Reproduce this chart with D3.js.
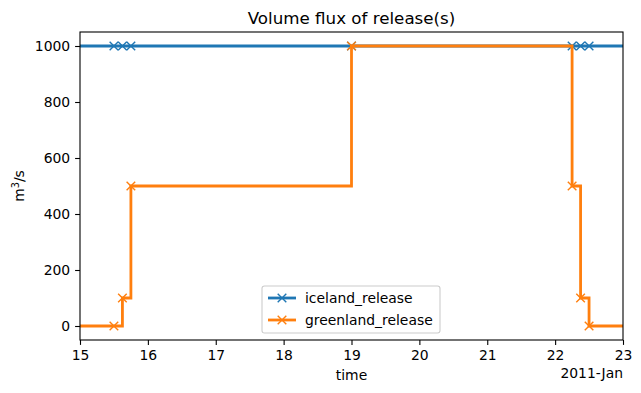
<!DOCTYPE html>
<html>
<head>
<meta charset="utf-8">
<script src="https://cdn.jsdelivr.net/npm/d3@7"></script>
<style>
body { margin: 0; background: #fff; }
text { font-family: "DejaVu Sans", sans-serif; fill: #000; }
</style>
</head>
<body>
<div id="chart"></div>
<script>
// 数据：时间以 2011 年 1 月的日为单位
var seriesNames = ["iceland_release", "greenland_release"];
var seriesColors = ["#1f77b4", "#ff7f0e"];
var icelandTime = [14.5, 15.5, 15.625, 15.75, 19, 22.25, 22.375, 22.5, 23.5];
var icelandValue = [1000, 1000, 1000, 1000, 1000, 1000, 1000, 1000, 1000];
var greenlandTime = [14.5, 15.5, 15.625, 15.75, 19, 22.25, 22.375, 22.5, 23.5];
var greenlandValue = [0, 0, 100, 500, 1000, 500, 100, 0, 0];
var xTicks = [15, 16, 17, 18, 19, 20, 21, 22, 23];
var yTicks = [0, 200, 400, 600, 800, 1000];

var W = 641, H = 393;
var margin = { left: 80, right: 18, top: 32, bottom: 53 };
var FS = 13.9;

var svg = d3.select("#chart").append("svg")
	.attr("width", W).attr("height", H);

var x = d3.scaleLinear().domain([15, 23]).range([margin.left, W - margin.right]);
var y = d3.scaleLinear().domain([-50, 1050]).range([H - margin.bottom, margin.top]);

svg.append("clipPath").attr("id", "clip")
	.append("rect")
	.attr("x", margin.left).attr("y", margin.top)
	.attr("width", W - margin.left - margin.right)
	.attr("height", H - margin.top - margin.bottom);

function makeData(t, v) {
	var arr = [];
	for (var i = 0; i < t.length; i++) arr.push({ t: t[i], v: v[i] });
	return arr;
}
var allSeries = [makeData(icelandTime, icelandValue), makeData(greenlandTime, greenlandValue)];

var line = d3.line()
	.x(function (d) { return x(d.t); })
	.y(function (d) { return y(d.v); })
	.curve(d3.curveStepAfter);

var plot = svg.append("g").attr("clip-path", "url(#clip)");

function xMarker(g, cx, cy, color) {
	var s = 4.3;
	g.append("path")
		.attr("d", "M" + (cx - s) + "," + (cy - s) + "L" + (cx + s) + "," + (cy + s) +
			"M" + (cx - s) + "," + (cy + s) + "L" + (cx + s) + "," + (cy - s))
		.attr("stroke", color)
		.attr("stroke-width", 1.4)
		.attr("fill", "none");
}

allSeries.forEach(function (data, k) {
	var g = plot.append("g");
	g.append("path")
		.datum(data)
		.attr("d", line)
		.attr("fill", "none")
		.attr("stroke", seriesColors[k])
		.attr("stroke-width", 2.8);
	data.forEach(function (d) {
		xMarker(g, x(d.t), y(d.v), seriesColors[k]);
	});
});

// 坐标轴
var xAxis = svg.append("g")
	.attr("transform", "translate(0," + (H - margin.bottom) + ")")
	.call(d3.axisBottom(x).tickValues(xTicks).tickFormat(d3.format("d")).tickSizeOuter(0).tickSize(4.9).tickPadding(4.9));
var yAxis = svg.append("g")
	.attr("transform", "translate(" + margin.left + ",0)")
	.call(d3.axisLeft(y).tickValues(yTicks).tickFormat(d3.format("d")).tickSizeOuter(0).tickSize(4.9).tickPadding(4.9));
[xAxis, yAxis].forEach(function (a) {
	a.selectAll("text").style("font-size", FS + "px").style("font-family", "DejaVu Sans");
	a.selectAll("line").attr("stroke", "#000").attr("stroke-width", 1.1);
	a.select(".domain").remove();
});

// 边框
svg.append("rect")
	.attr("x", margin.left).attr("y", margin.top)
	.attr("width", W - margin.left - margin.right)
	.attr("height", H - margin.top - margin.bottom)
	.attr("fill", "none").attr("stroke", "#000").attr("stroke-width", 1.1);

// 标题与标签
svg.append("text")
	.attr("x", (margin.left + W - margin.right) / 2).attr("y", 24)
	.attr("text-anchor", "middle").style("font-size", "16.7px")
	.text("Volume flux of release(s)");

svg.append("text")
	.attr("x", (margin.left + W - margin.right) / 2).attr("y", 380)
	.attr("text-anchor", "middle").style("font-size", FS + "px")
	.text("time");

svg.append("text")
	.attr("x", W - margin.right).attr("y", 378)
	.attr("text-anchor", "end").style("font-size", FS + "px")
	.text("2011-Jan");

var yl = svg.append("text")
	.attr("transform", "translate(24," + ((margin.top + H - margin.bottom) / 2) + ") rotate(-90)")
	.attr("text-anchor", "middle").style("font-size", FS + "px");
yl.append("tspan").text("m");
yl.append("tspan").attr("dy", -5).style("font-size", "9.7px").text("3");
yl.append("tspan").attr("dy", 5).text("/s");

// 图例
var lg = svg.append("g").attr("transform", "translate(262,286)");
lg.append("rect")
	.attr("width", 178).attr("height", 47).attr("rx", 2.5)
	.attr("fill", "#fff").attr("fill-opacity", 0.8)
	.attr("stroke", "#ccc").attr("stroke-width", 1.1);
seriesNames.forEach(function (name, k) {
	var yy = 12 + k * 22;
	lg.append("line")
		.attr("x1", 6).attr("x2", 34).attr("y1", yy).attr("y2", yy)
		.attr("stroke", seriesColors[k]).attr("stroke-width", 2.8);
	xMarker(lg, 20, yy, seriesColors[k]);
	lg.append("text")
		.attr("x", 43).attr("y", yy + 5)
		.style("font-size", FS + "px")
		.text(name);
});
</script>
</body>
</html>
